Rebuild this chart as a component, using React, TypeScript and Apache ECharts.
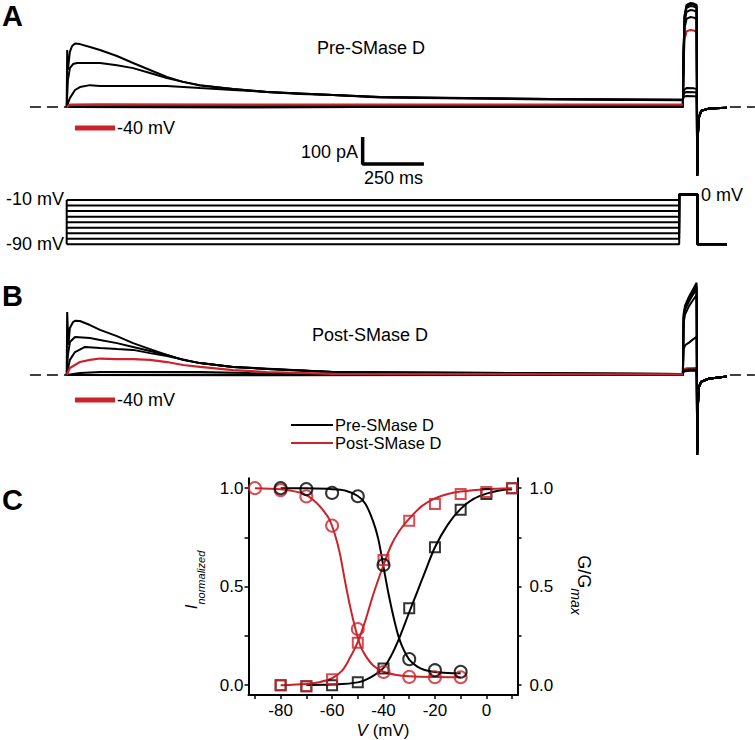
import React, { useEffect, useRef } from "react";
import * as echarts from "echarts";

const FONT = "'Liberation Sans', Arial, Helvetica, sans-serif";
const RED = "#cc2229";
const BLACK = "#000000";

// ---------- Panel A: currents (time ms from prepulse onset, current pA) ----------
const aTailEnd = [[2576, -110], [2580, -40], [2590, -14], [2620, -6], [2695, -3]];
const aM90 = [[0, 0], [800, -1], [1600, 1], [2515, 0], [2518, 210], [2522, 340], [2530, 378], [2545, 385], [2560, 383], [2571, 378], [2574, -255]];
const aM80 = [[0, 0], [800, 1], [1600, 0], [2515, 1], [2518, 208], [2522, 335], [2530, 374], [2545, 381], [2560, 379], [2571, 374], [2574, -255]];
const aM70 = [[0, 0], [700, -1], [1600, 1], [2515, 0], [2518, 205], [2522, 330], [2530, 367], [2545, 374], [2560, 372], [2571, 367], [2574, -255]];
const aM60 = [[0, 0], [600, 1], [1500, 2], [2515, 1], [2518, 198], [2522, 316], [2530, 352], [2545, 359], [2560, 357], [2571, 352], [2574, -255]];
const aM50 = [[0, 0], [14, 3], [400, 4], [1200, 4], [2515, 4], [2518, 185], [2522, 293], [2530, 326], [2545, 333], [2560, 331], [2571, 326], [2574, -255]];
const aM40 = [[0, 0], [14, 9], [136, 10], [700, 9], [1279, 9], [2515, 9], [2518, 160], [2522, 250], [2530, 280], [2545, 285], [2560, 283], [2571, 278], [2574, -250]];
const aM30 = [[0, 0], [13, 33], [34, 63], [54, 74], [95, 81], [136, 78], [271, 78], [409, 78], [544, 70], [679, 63], [818, 56], [1087, 44], [1279, 35], [1972, 28], [2515, 25], [2518, 55], [2522, 65], [2530, 70], [2560, 69], [2571, 67], [2574, -250]];
const aM20 = [[0, 0], [5, 100], [13, 144], [26, 159], [42, 163], [95, 163], [136, 163], [205, 155], [271, 144], [340, 126], [409, 107], [475, 93], [544, 80], [679, 67], [818, 56], [1087, 44], [1279, 37], [1972, 30], [2515, 27], [2518, 47], [2522, 52], [2530, 56], [2560, 55], [2571, 54], [2574, -250]];
const aM10 = [[0, 0], [2, 211], [5, 137], [13, 204], [22, 226], [34, 235], [54, 233], [95, 222], [136, 211], [205, 189], [271, 163], [340, 137], [409, 111], [475, 93], [544, 81], [679, 67], [818, 56], [952, 48], [1087, 44], [1279, 37], [1564, 33], [1972, 30], [2515, 27], [2518, 36], [2522, 39], [2530, 41], [2560, 40], [2571, 39], [2574, -250]];

// ---------- Panel B: currents ----------
const bTailEnd = [[2576, -120], [2580, -45], [2590, -25], [2620, -14], [2660, -9], [2695, -6]];
const bM90 = [[0, 0], [800, 0], [2515, 0], [2518, 225], [2524, 258], [2540, 290], [2555, 315], [2571, 342], [2574, -296]];
const bM80 = [[0, 0], [800, 1], [2515, 0], [2518, 218], [2524, 250], [2540, 282], [2555, 306], [2571, 330], [2574, -296]];
const bM70 = [[0, 0], [800, -1], [2515, 0], [2518, 210], [2524, 242], [2540, 272], [2555, 296], [2571, 318], [2574, -296]];
const bM60 = [[0, 0], [800, 1], [2515, 0], [2518, 195], [2524, 225], [2540, 255], [2555, 276], [2571, 296], [2574, -296]];
const bM50 = [[0, 0], [54, 7], [136, 11], [544, 11], [749, 7], [1087, 4], [2515, 0], [2518, 95], [2524, 110], [2540, 120], [2555, 131], [2571, 141], [2574, -290]];
const bM40 = [[0, 0], [13, 26], [54, 48], [95, 56], [136, 61], [205, 59], [271, 59], [340, 56], [409, 48], [475, 37], [544, 30], [679, 18], [818, 11], [1087, 4], [2515, 2], [2518, 20], [2530, 25], [2571, 26], [2574, -280]];
const bM30 = [[0, 0], [13, 56], [34, 85], [75, 104], [136, 100], [205, 96], [271, 93], [340, 81], [409, 70], [544, 44], [679, 30], [1087, 11], [2515, 4], [2518, 17], [2540, 20], [2571, 20], [2574, -280]];
const bM20 = [[0, 0], [5, 74], [13, 122], [34, 141], [95, 137], [136, 130], [205, 118], [271, 104], [340, 89], [409, 74], [475, 56], [544, 44], [679, 30], [818, 22], [1087, 11], [2515, 4], [2518, 15], [2540, 18], [2571, 18], [2574, -280]];
const bM10 = [[0, 0], [2, 233], [7, 111], [13, 174], [26, 196], [34, 201], [54, 200], [95, 185], [136, 167], [205, 144], [271, 118], [340, 96], [409, 74], [475, 56], [544, 44], [679, 30], [818, 22], [1087, 11], [1360, 7], [2515, 4], [2518, 13], [2540, 16], [2571, 16], [2574, -280]];

// baseline dashes (time ms)
const dashLeft = [[-150, 0], [0, 0]];
const dashRight = [[2707, 0], [2809, 0]];
// scale bar (100 pA, 250 ms) in panel A coordinates
const scaleBar = [[1208, -111], [1208, -211], [1458, -211]];

// ---------- Voltage protocol ----------
const prepulseVoltages = [-90, -80, -70, -60, -50, -40, -30, -20, -10];
const prepulseEnd = 2500;
const testPulseV = 0;
const testPulseEnd = 2575;
const holdingV = -90;
const protocolEnd = 2695;
const testPulseOnset = 2515;

// ---------- Panel C ----------
const cTicksX = [-90, -80, -70, -60, -50, -40, -30, -20, -10, 0, 10];
const cLabelsX = [-80, -60, -40, -20, 0];
const cTicksY = [0, 0.25, 0.5, 0.75, 1];
const cLabelsY = [0, 0.5, 1];

const preInactPts = [[-80, 1.0], [-70, 0.995], [-60, 0.976], [-50, 0.959], [-40, 0.61], [-30, 0.132], [-20, 0.076], [-10, 0.068]];
const preActPts = [[-80, 0], [-70, -0.005], [-60, 0.0], [-50, 0.015], [-40, 0.085], [-30, 0.39], [-20, 0.70], [-10, 0.89], [0, 0.97], [10, 1.0]];
const postInactPts = [[-90, 1.0], [-80, 0.99], [-70, 0.958], [-60, 0.81], [-50, 0.285], [-40, 0.067], [-30, 0.042], [-20, 0.04], [-10, 0.04]];
const postActPts = [[-80, 0], [-70, -0.005], [-60, 0.03], [-50, 0.215], [-40, 0.635], [-30, 0.835], [-20, 0.92], [-10, 0.97], [0, 0.98], [10, 1.0]];

const preInactFit = [[-80, 1.0], [-70, 0.999], [-60, 0.995], [-55, 0.988], [-50, 0.96], [-47, 0.92], [-44, 0.83], [-42, 0.74], [-40, 0.6], [-38, 0.46], [-36, 0.34], [-34, 0.24], [-32, 0.175], [-30, 0.13], [-27, 0.095], [-24, 0.077], [-20, 0.067], [-15, 0.062], [-10, 0.06]];
const preActFit = [[-70, 0.001], [-60, 0.003], [-50, 0.014], [-45, 0.04], [-40, 0.088], [-37, 0.15], [-34, 0.235], [-30, 0.37], [-27, 0.47], [-24, 0.57], [-20, 0.70], [-15, 0.815], [-10, 0.895], [-5, 0.945], [0, 0.972], [5, 0.988], [10, 0.995]];
const postInactFit = [[-90, 1.0], [-80, 0.995], [-75, 0.985], [-70, 0.965], [-66, 0.925], [-63, 0.88], [-61, 0.84], [-59, 0.77], [-57, 0.67], [-55, 0.53], [-53, 0.4], [-51, 0.29], [-49, 0.2], [-47, 0.15], [-44, 0.1], [-40, 0.068], [-35, 0.052], [-30, 0.045], [-20, 0.041], [-10, 0.04]];
const postActFit = [[-80, 0], [-70, 0.006], [-65, 0.015], [-60, 0.035], [-56, 0.075], [-53, 0.14], [-50, 0.22], [-47, 0.33], [-44, 0.46], [-40, 0.61], [-37, 0.71], [-34, 0.78], [-30, 0.845], [-25, 0.91], [-20, 0.948], [-15, 0.97], [-10, 0.983], [0, 0.995], [10, 1.0]];

function traceLine(data: number[][], color: string, idx: number, width = 2, z = 2) {
  return {
    type: "line",
    xAxisIndex: idx,
    yAxisIndex: idx,
    data,
    symbol: "none",
    silent: true,
    z,
    lineStyle: { color, width },
  };
}

function txt(x: number, y: number, text: string, size = 18, align = "left", extra: any = {}) {
  return {
    type: "text",
    x,
    y,
    silent: true,
    style: {
      text,
      fill: BLACK,
      fontSize: size,
      fontFamily: FONT,
      align,
      textAlign: align,
      verticalAlign: "middle",
      textVerticalAlign: "middle",
      ...extra,
    },
  };
}

export default function App() {
  const ref = useRef<HTMLDivElement>(null);
  useEffect(() => {
    if (!ref.current) return;
    const chart = echarts.init(ref.current, null, { renderer: "svg" });

    const aBlack = [aM90, aM80, aM70, aM60, aM50, aM30, aM20, aM10];
    const bBlack = [bM90, bM80, bM70, bM60, bM50, bM30, bM20, bM10];

    const series: any[] = [];
    // red test-pulse part under the black traces, red prepulse part above them
    const aRed = aM40.concat(aTailEnd);
    const bRed = bM40.concat(bTailEnd);
    series.push(traceLine(aRed.filter((p) => p[0] >= testPulseOnset), RED, 0, 2, 1));
    series.push(traceLine(bRed.filter((p) => p[0] >= testPulseOnset), RED, 2, 2, 1));
    aBlack.forEach((d) => series.push(traceLine(d.concat(aTailEnd), BLACK, 0)));
    series.push(traceLine(aRed.filter((p) => p[0] <= testPulseOnset), RED, 0, 2.2, 3));
    bBlack.forEach((d) => series.push(traceLine(d.concat(bTailEnd), BLACK, 2)));
    series.push(traceLine(bRed.filter((p) => p[0] <= testPulseOnset), RED, 2, 2.2, 3));

    [0, 2].forEach((i) => {
      [dashLeft, dashRight].forEach((d) =>
        series.push({
          type: "line", xAxisIndex: i, yAxisIndex: i, data: d, symbol: "none", silent: true,
          lineStyle: { color: BLACK, width: 1.5, type: [11, 6] },
        })
      );
    });
    series.push(traceLine(scaleBar, BLACK, 0, 3.5));

    // voltage protocol
    prepulseVoltages.forEach((v) => {
      series.push(
        traceLine(
          [[0, v], [prepulseEnd, v], [prepulseEnd, testPulseV], [testPulseEnd, testPulseV], [testPulseEnd, holdingV], [protocolEnd, holdingV]],
          BLACK, 1, 2
        )
      );
    });
    series.push(traceLine([[0, prepulseVoltages[prepulseVoltages.length - 1]], [0, prepulseVoltages[0]]], BLACK, 1, 2));

    // panel C fits
    const fit = (data: number[][], color: string, yi: number) => ({
      type: "line", xAxisIndex: 3, yAxisIndex: yi, data, symbol: "none", smooth: 0.3, silent: true, z: 3,
      lineStyle: { color, width: 2 },
    });
    const pts = (data: number[][], color: string, yi: number, symbol: string, size: number, z: number) => ({
      type: "scatter", xAxisIndex: 3, yAxisIndex: yi, data, symbol, symbolSize: size, silent: true, z,
      itemStyle: { color: "rgba(255,255,255,0)", borderColor: color, borderWidth: 2 },
    });
    series.push(fit(preInactFit, BLACK, 3));
    series.push(fit(preActFit, BLACK, 4));
    series.push(fit(postInactFit, RED, 3));
    series.push(fit(postActFit, RED, 4));
    series.push(pts(preActPts, BLACK, 4, "rect", 10, 4));
    series.push(pts(postActPts, RED, 4, "rect", 10, 5));
    series.push(pts(postInactPts, RED, 3, "circle", 12, 5));
    series.push(pts(preInactPts, BLACK, 3, "circle", 12, 6));

    const hiddenX = { type: "value", min: -272.2, max: 2809.4, show: false };
    const axisLabelStyle = { color: BLACK, fontSize: 17, fontFamily: FONT };

    const option: any = {
      animation: false,
      grid: [
        { left: 0, top: 0, width: 755, height: 190, outerBoundsMode: "none" },
        { left: 0, top: 185, width: 755, height: 70, outerBoundsMode: "none" },
        { left: 0, top: 270, width: 755, height: 200, outerBoundsMode: "none" },
        { left: 248.5, top: 478.3, width: 269, height: 216.7, outerBoundsMode: "none" },
      ],
      xAxis: [
        { ...hiddenX, gridIndex: 0 },
        { ...hiddenX, gridIndex: 1 },
        { ...hiddenX, gridIndex: 2 },
        {
          type: "value", gridIndex: 3, min: -92.5, max: 12.1,
          splitLine: { show: false },
          axisLine: { show: true, onZero: false, lineStyle: { color: BLACK, width: 2 } },
          axisTick: { show: true, customValues: cTicksX, length: 4, lineStyle: { color: BLACK, width: 1.5 } },
          axisLabel: { ...axisLabelStyle, customValues: cLabelsX, margin: 7 },
        },
      ],
      yAxis: [
        { type: "value", gridIndex: 0, min: -307.4, max: 396.3, show: false },
        { type: "value", gridIndex: 1, min: -109.2, max: 17.15, show: false },
        { type: "value", gridIndex: 2, min: -351.9, max: 388.9, show: false },
        {
          type: "value", gridIndex: 3, min: -0.05, max: 1.05, position: "left",
          splitLine: { show: false },
          axisLine: { show: true, onZero: false, lineStyle: { color: BLACK, width: 2 } },
          axisTick: { show: true, customValues: cTicksY, length: 4, lineStyle: { color: BLACK, width: 1.5 } },
          axisLabel: { ...axisLabelStyle, customValues: cLabelsY, margin: 5, formatter: (v: number) => v.toFixed(1) },
        },
        {
          type: "value", gridIndex: 3, min: -0.05, max: 1.05, position: "right",
          splitLine: { show: false },
          axisLine: { show: true, onZero: false, lineStyle: { color: BLACK, width: 2 } },
          axisTick: { show: true, customValues: cTicksY, length: 4, lineStyle: { color: BLACK, width: 1.5 } },
          axisLabel: { ...axisLabelStyle, customValues: cLabelsY, margin: 12, formatter: (v: number) => v.toFixed(1) },
        },
      ],
      series,
      graphic: [
        txt(2, 16, "A", 29, "left", { fontWeight: "bold" }),
        txt(2, 296, "B", 29, "left", { fontWeight: "bold" }),
        txt(2, 500, "C", 29, "left", { fontWeight: "bold" }),
        txt(317, 48, "Pre-SMase D"),
        txt(312, 335, "Post-SMase D"),
        { type: "rect", silent: true, shape: { x: 75, y: 125.5, width: 40, height: 5 }, style: { fill: RED } },
        txt(117, 128, "-40 mV"),
        { type: "rect", silent: true, shape: { x: 75, y: 397.5, width: 40, height: 5 }, style: { fill: RED } },
        txt(117, 400, "-40 mV"),
        txt(358, 152, "100 pA", 18, "right"),
        txt(364, 178, "250 ms"),
        txt(64, 199, "-10 mV", 18, "right"),
        txt(64, 244, "-90 mV", 18, "right"),
        txt(701, 195, "0 mV"),
        { type: "line", silent: true, shape: { x1: 291, y1: 425, x2: 333, y2: 425 }, style: { stroke: BLACK, lineWidth: 2 } },
        txt(335, 425, "Pre-SMase D", 16.5),
        { type: "line", silent: true, shape: { x1: 291, y1: 443, x2: 333, y2: 443 }, style: { stroke: RED, lineWidth: 2 } },
        txt(335, 443, "Post-SMase D", 16.5),
        {
          type: "text", x: 383, y: 730, silent: true,
          style: {
            text: "{i|V} (mV)", fill: BLACK, fontSize: 17, fontFamily: FONT,
            align: "center", textAlign: "center", verticalAlign: "middle", textVerticalAlign: "middle",
            rich: { i: { fontStyle: "italic", fontSize: 17, fontFamily: FONT, fill: BLACK } },
          },
        },
        {
          type: "text", x: 191, y: 580, rotation: Math.PI / 2, silent: true,
          style: {
            text: "{a|I}{b|normalized}", fill: BLACK, fontFamily: FONT,
            align: "center", textAlign: "center", verticalAlign: "middle", textVerticalAlign: "middle",
            rich: {
              a: { fontStyle: "italic", fontSize: 17, fontFamily: FONT, fill: BLACK, lineHeight: 30, verticalAlign: "middle" },
              b: { fontStyle: "italic", fontSize: 11, fontFamily: FONT, fill: BLACK, lineHeight: 10, verticalAlign: "bottom" },
            },
          },
        },
        {
          type: "text", x: 584, y: 585, rotation: -Math.PI / 2, silent: true,
          style: {
            text: "{a|G/G}{b|max}", fill: BLACK, fontFamily: FONT,
            align: "center", textAlign: "center", verticalAlign: "middle", textVerticalAlign: "middle",
            rich: {
              a: { fontSize: 18, fontFamily: FONT, fill: BLACK, lineHeight: 30, verticalAlign: "middle" },
              b: { fontStyle: "italic", fontSize: 14, fontFamily: FONT, fill: BLACK, lineHeight: 12, verticalAlign: "bottom" },
            },
          },
        },
      ],
    };
    chart.setOption(option);
    return () => chart.dispose();
  }, []);
  return (
    <div
      ref={ref}
      style={{ position: "absolute", left: 0, top: 0, width: 755, height: 740, background: "#ffffff" }}
    />
  );
}
